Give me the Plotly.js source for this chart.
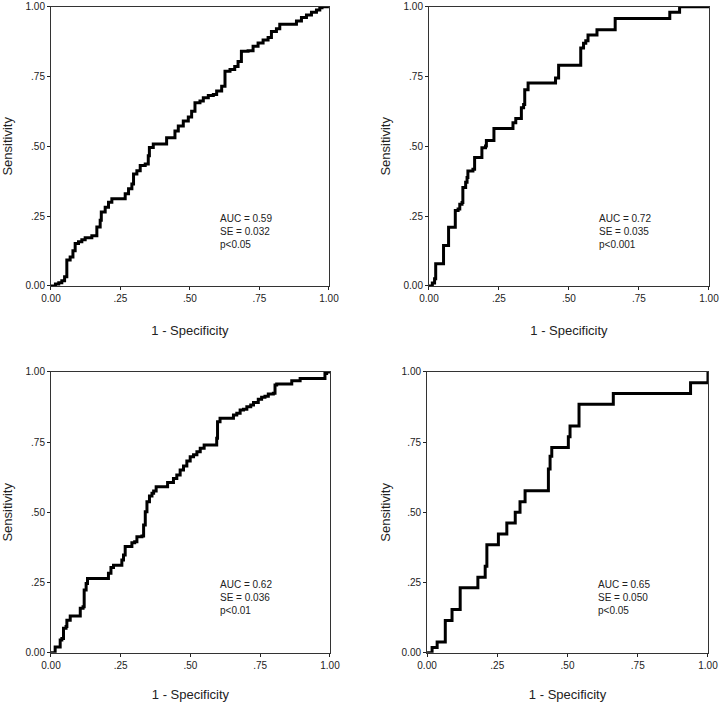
<!DOCTYPE html>
<html>
<head>
<meta charset="utf-8">
<script src="https://cdn.plot.ly/plotly-3.0.1.min.js"></script>
<style>html,body{margin:0;padding:0;background:#fff;}#chart{width:720px;height:702px;}</style>
</head>
<body>
<div id="chart"></div>
<script>
// Tick labels
const tickVals = [0, 0.25, 0.5, 0.75, 1];
const tickText = ['0.00', '.25', '.50', '.75', '1.00'];

// Panel A (top-left): 1 - specificity / sensitivity
const fprA = [0, 0.016, 0.028, 0.039, 0.049, 0.057, 0.069, 0.079, 0.087, 0.099, 0.111, 0.123, 0.147, 0.165, 0.177, 0.181, 0.195, 0.207, 0.219, 0.255, 0.267, 0.279, 0.291, 0.297, 0.309, 0.321, 0.339, 0.350, 0.354, 0.368, 0.404, 0.416, 0.434, 0.446, 0.458, 0.476, 0.494, 0.506, 0.518, 0.536, 0.548, 0.566, 0.584, 0.596, 0.614, 0.626, 0.644, 0.661, 0.673, 0.685, 0.709, 0.727, 0.745, 0.763, 0.781, 0.793, 0.811, 0.823, 0.865, 0.883, 0.901, 0.919, 0.937, 0.955, 0.967, 0.975, 1.0];
const tprA = [0, 0.007, 0.012, 0.019, 0.033, 0.093, 0.104, 0.126, 0.152, 0.158, 0.166, 0.173, 0.180, 0.211, 0.235, 0.265, 0.282, 0.300, 0.312, 0.312, 0.330, 0.348, 0.365, 0.401, 0.413, 0.431, 0.437, 0.466, 0.496, 0.508, 0.508, 0.531, 0.531, 0.555, 0.573, 0.591, 0.605, 0.626, 0.656, 0.662, 0.674, 0.682, 0.686, 0.698, 0.715, 0.769, 0.775, 0.786, 0.804, 0.840, 0.842, 0.858, 0.870, 0.881, 0.890, 0.911, 0.921, 0.937, 0.937, 0.949, 0.961, 0.970, 0.980, 0.988, 0.996, 1.0, 1.0];

// Panel B (top-right)
const fprB = [0, 0.012, 0.020, 0.024, 0.052, 0.070, 0.094, 0.104, 0.110, 0.118, 0.121, 0.131, 0.136, 0.139, 0.157, 0.163, 0.189, 0.202, 0.205, 0.232, 0.300, 0.310, 0.330, 0.338, 0.342, 0.354, 0.452, 0.463, 0.542, 0.552, 0.560, 0.568, 0.600, 0.665, 0.860, 0.895, 1.0];
const tprB = [0, 0.011, 0.026, 0.080, 0.145, 0.210, 0.270, 0.276, 0.293, 0.299, 0.353, 0.371, 0.388, 0.412, 0.418, 0.460, 0.495, 0.501, 0.521, 0.564, 0.584, 0.600, 0.638, 0.650, 0.703, 0.727, 0.745, 0.790, 0.852, 0.869, 0.878, 0.899, 0.917, 0.958, 0.980, 1.0, 1.0];

// Panel C (bottom-left)
const fprC = [0, 0.015, 0.033, 0.039, 0.045, 0.054, 0.057, 0.069, 0.105, 0.115, 0.119, 0.126, 0.131, 0.206, 0.215, 0.224, 0.254, 0.260, 0.266, 0.290, 0.300, 0.308, 0.326, 0.332, 0.338, 0.344, 0.353, 0.362, 0.368, 0.377, 0.418, 0.439, 0.451, 0.463, 0.475, 0.487, 0.499, 0.511, 0.523, 0.535, 0.549, 0.594, 0.597, 0.606, 0.654, 0.666, 0.678, 0.690, 0.702, 0.716, 0.726, 0.743, 0.755, 0.767, 0.779, 0.797, 0.803, 0.809, 0.863, 0.893, 0.982, 0.988, 1.0];
const tprC = [0, 0.020, 0.045, 0.051, 0.087, 0.093, 0.116, 0.131, 0.158, 0.164, 0.223, 0.247, 0.264, 0.283, 0.304, 0.312, 0.330, 0.348, 0.378, 0.392, 0.395, 0.413, 0.416, 0.455, 0.502, 0.538, 0.558, 0.568, 0.576, 0.591, 0.606, 0.621, 0.633, 0.651, 0.665, 0.683, 0.698, 0.705, 0.716, 0.728, 0.740, 0.764, 0.823, 0.835, 0.847, 0.853, 0.865, 0.867, 0.876, 0.882, 0.891, 0.903, 0.910, 0.914, 0.922, 0.924, 0.954, 0.957, 0.969, 0.977, 0.995, 1.0, 1.0];

// Panel D (bottom-right)
const fprD = [0, 0.018, 0.036, 0.059, 0.065, 0.089, 0.118, 0.181, 0.207, 0.213, 0.254, 0.284, 0.314, 0.331, 0.349, 0.432, 0.438, 0.444, 0.503, 0.509, 0.541, 0.663, 0.938, 1.0];
const tprD = [0, 0.019, 0.038, 0.038, 0.115, 0.154, 0.231, 0.269, 0.308, 0.385, 0.423, 0.462, 0.500, 0.538, 0.577, 0.654, 0.700, 0.731, 0.769, 0.808, 0.885, 0.923, 0.962, 1.0];

// Statistics text
const statsA = ['AUC = 0.59', 'SE = 0.032', 'p<0.05'];
const statsB = ['AUC = 0.72', 'SE = 0.035', 'p<0.001'];
const statsC = ['AUC = 0.62', 'SE = 0.036', 'p<0.01'];
const statsD = ['AUC = 0.65', 'SE = 0.050', 'p<0.05'];

const xTitle = '1 - Specificity';
const yTitle = 'Sensitivity';

const FONT = 'Liberation Sans, Arial, sans-serif';
const lineStyle = {color: '#000', width: 3, shape: 'hv'};

const traces = [
  {x: fprA, y: tprA, xaxis: 'x', yaxis: 'y'},
  {x: fprB, y: tprB, xaxis: 'x2', yaxis: 'y2'},
  {x: fprC, y: tprC, xaxis: 'x3', yaxis: 'y3'},
  {x: fprD, y: tprD, xaxis: 'x4', yaxis: 'y4'}
].map(t => Object.assign(t, {type: 'scatter', mode: 'lines', line: lineStyle, hoverinfo: 'skip', showlegend: false}));

function xax(domain, anchor) {
  return {
    domain: domain, anchor: anchor, range: [0, 1], fixedrange: true,
    tickvals: tickVals, ticktext: tickText,
    ticks: 'outside', ticklen: 3, tickwidth: 1, tickcolor: '#222',
    showline: true, mirror: true, linecolor: '#333', linewidth: 1,
    showgrid: false, zeroline: false,
    tickfont: {family: FONT, size: 10, color: '#222'},
    title: {text: xTitle, font: {family: FONT, size: 13, color: '#222'}, standoff: 22},
    automargin: false
  };
}
function yax(domain, anchor, standoff) {
  return {
    domain: domain, anchor: anchor, range: [0, 1], fixedrange: true,
    tickvals: tickVals, ticktext: tickText,
    ticks: 'outside', ticklen: 3, tickwidth: 1, tickcolor: '#222',
    showline: true, mirror: true, linecolor: '#333', linewidth: 1,
    showgrid: false, zeroline: false,
    tickfont: {family: FONT, size: 10, color: '#222'},
    title: {text: yTitle, font: {family: FONT, size: 13, color: '#222'}, standoff: standoff},
    automargin: false
  };
}

function statAnn(lines, xref, yref) {
  return {
    text: lines.join('<br>'), xref: xref, yref: yref, x: 0.6, y: 0.27,
    xanchor: 'left', yanchor: 'top', align: 'left', showarrow: false,
    font: {family: FONT, size: 10, color: '#222'}
  };
}

const layout = {
  width: 720, height: 702,
  margin: {l: 0, r: 0, t: 0, b: 0},
  paper_bgcolor: '#fff', plot_bgcolor: '#fff',
  showlegend: false,
  xaxis: xax([0.0708, 0.4569], 'y'),
  yaxis: yax([0.5926, 0.9905], 'x', 9),
  xaxis2: xax([0.5958, 0.9847], 'y2'),
  yaxis2: yax([0.5926, 0.9905], 'x2', 9),
  xaxis3: xax([0.0708, 0.4583], 'y3'),
  yaxis3: yax([0.0702, 0.4701], 'x3', 9),
  xaxis4: xax([0.5931, 0.9833], 'y4'),
  yaxis4: yax([0.0702, 0.4701], 'x4', 8),
  annotations: [
    statAnn(statsA, 'x', 'y'),
    statAnn(statsB, 'x2', 'y2'),
    statAnn(statsC, 'x3', 'y3'),
    statAnn(statsD, 'x4', 'y4')
  ]
};

Plotly.newPlot('chart', traces, layout, {staticPlot: true, displayModeBar: false});
</script>
</body>
</html>
